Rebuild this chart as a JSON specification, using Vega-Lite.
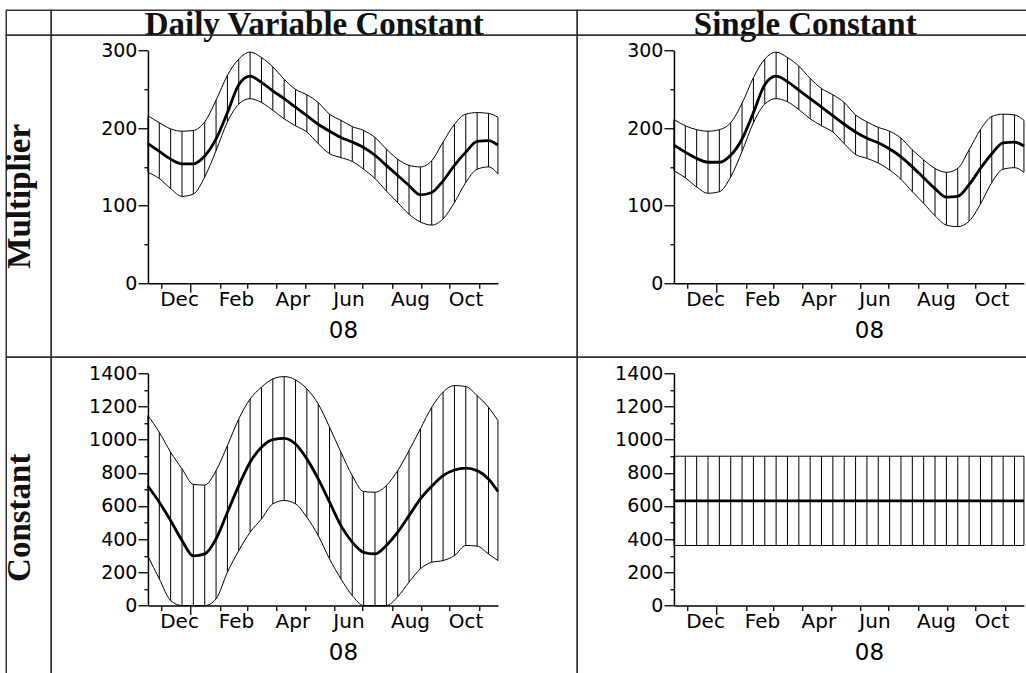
{
  "$schema": "https://vega.github.io/schema/vega-lite/v6.json",
  "background": "white",
  "padding": {"left": 3.25, "top": 7.25, "right": 0, "bottom": 0},
  "columns": 3,
  "spacing": 0,
  "bounds": "flush",
  "align": "each",
  "config": {
    "view": {"stroke": null},
    "axis": {"grid": false, "title": null, "domainColor": "#000", "domainWidth": 1.5, "tickColor": "#000", "tickWidth": 1.3, "labelColor": "#000", "labelFont": "DejaVu Sans", "titleColor": "#000", "titleFont": "DejaVu Sans", "titleFontWeight": "normal"}
  },
  "datasets": {
    "tl": [
      {"date": "2007-11-17", "lo": 143, "mid": 180, "hi": 216},
      {"date": "2007-11-29", "lo": 135, "mid": 170, "hi": 207},
      {"date": "2007-12-11", "lo": 122, "mid": 160, "hi": 199},
      {"date": "2007-12-23", "lo": 112, "mid": 154, "hi": 196},
      {"date": "2008-01-04", "lo": 115, "mid": 154, "hi": 197},
      {"date": "2008-01-16", "lo": 137, "mid": 164, "hi": 208},
      {"date": "2008-01-28", "lo": 171, "mid": 186, "hi": 236},
      {"date": "2008-02-09", "lo": 208, "mid": 220, "hi": 268},
      {"date": "2008-02-21", "lo": 231, "mid": 256, "hi": 289},
      {"date": "2008-03-04", "lo": 238, "mid": 267, "hi": 298},
      {"date": "2008-03-16", "lo": 233, "mid": 259, "hi": 291},
      {"date": "2008-03-28", "lo": 223, "mid": 248, "hi": 279},
      {"date": "2008-04-09", "lo": 212, "mid": 238, "hi": 263},
      {"date": "2008-04-21", "lo": 203, "mid": 227, "hi": 250},
      {"date": "2008-05-03", "lo": 195, "mid": 216, "hi": 243},
      {"date": "2008-05-15", "lo": 180, "mid": 205, "hi": 233},
      {"date": "2008-05-27", "lo": 167, "mid": 196, "hi": 218},
      {"date": "2008-06-08", "lo": 162, "mid": 188, "hi": 210},
      {"date": "2008-06-20", "lo": 157, "mid": 182, "hi": 202},
      {"date": "2008-07-02", "lo": 147, "mid": 175, "hi": 197},
      {"date": "2008-07-14", "lo": 135, "mid": 165, "hi": 188},
      {"date": "2008-07-26", "lo": 119, "mid": 152, "hi": 173},
      {"date": "2008-08-07", "lo": 104, "mid": 139, "hi": 160},
      {"date": "2008-08-19", "lo": 89, "mid": 126, "hi": 152},
      {"date": "2008-08-31", "lo": 79, "mid": 114, "hi": 150},
      {"date": "2008-09-12", "lo": 75, "mid": 117, "hi": 158},
      {"date": "2008-09-24", "lo": 83, "mid": 132, "hi": 182},
      {"date": "2008-10-06", "lo": 104, "mid": 152, "hi": 205},
      {"date": "2008-10-18", "lo": 130, "mid": 169, "hi": 218},
      {"date": "2008-10-30", "lo": 147, "mid": 183, "hi": 220},
      {"date": "2008-11-11", "lo": 150, "mid": 184, "hi": 219},
      {"date": "2008-11-21", "lo": 141, "mid": 178, "hi": 214}
    ],
    "tr": [
      {"date": "2007-11-17", "lo": 145, "mid": 178, "hi": 211},
      {"date": "2007-11-29", "lo": 136, "mid": 169, "hi": 203},
      {"date": "2007-12-11", "lo": 124, "mid": 161, "hi": 198},
      {"date": "2007-12-23", "lo": 116, "mid": 156, "hi": 196},
      {"date": "2008-01-04", "lo": 118, "mid": 156, "hi": 198},
      {"date": "2008-01-16", "lo": 137, "mid": 165, "hi": 207},
      {"date": "2008-01-28", "lo": 170, "mid": 186, "hi": 232},
      {"date": "2008-02-09", "lo": 207, "mid": 220, "hi": 265},
      {"date": "2008-02-21", "lo": 231, "mid": 256, "hi": 289},
      {"date": "2008-03-04", "lo": 238, "mid": 267, "hi": 298},
      {"date": "2008-03-16", "lo": 234, "mid": 260, "hi": 291},
      {"date": "2008-03-28", "lo": 224, "mid": 249, "hi": 280},
      {"date": "2008-04-09", "lo": 212, "mid": 238, "hi": 264},
      {"date": "2008-04-21", "lo": 203, "mid": 227, "hi": 251},
      {"date": "2008-05-03", "lo": 195, "mid": 216, "hi": 243},
      {"date": "2008-05-15", "lo": 180, "mid": 205, "hi": 233},
      {"date": "2008-05-27", "lo": 166, "mid": 195, "hi": 217},
      {"date": "2008-06-08", "lo": 161, "mid": 187, "hi": 208},
      {"date": "2008-06-20", "lo": 155, "mid": 181, "hi": 201},
      {"date": "2008-07-02", "lo": 146, "mid": 173, "hi": 196},
      {"date": "2008-07-14", "lo": 134, "mid": 163, "hi": 187},
      {"date": "2008-07-26", "lo": 118, "mid": 150, "hi": 172},
      {"date": "2008-08-07", "lo": 103, "mid": 136, "hi": 159},
      {"date": "2008-08-19", "lo": 87, "mid": 122, "hi": 148},
      {"date": "2008-08-31", "lo": 75, "mid": 111, "hi": 143},
      {"date": "2008-09-12", "lo": 73, "mid": 112, "hi": 148},
      {"date": "2008-09-24", "lo": 80, "mid": 127, "hi": 172},
      {"date": "2008-10-06", "lo": 102, "mid": 148, "hi": 198},
      {"date": "2008-10-18", "lo": 130, "mid": 167, "hi": 215},
      {"date": "2008-10-30", "lo": 147, "mid": 181, "hi": 218},
      {"date": "2008-11-11", "lo": 149, "mid": 182, "hi": 217},
      {"date": "2008-11-21", "lo": 143, "mid": 177, "hi": 210}
    ],
    "bl": [
      {"date": "2007-11-17", "lo": 297, "mid": 719, "hi": 1145},
      {"date": "2007-11-29", "lo": 161, "mid": 623, "hi": 1044},
      {"date": "2007-12-11", "lo": 30, "mid": 512, "hi": 924},
      {"date": "2007-12-23", "lo": 0, "mid": 392, "hi": 824},
      {"date": "2008-01-04", "lo": 0, "mid": 299, "hi": 730},
      {"date": "2008-01-16", "lo": 0, "mid": 311, "hi": 726},
      {"date": "2008-01-28", "lo": 40, "mid": 402, "hi": 813},
      {"date": "2008-02-09", "lo": 201, "mid": 562, "hi": 964},
      {"date": "2008-02-21", "lo": 331, "mid": 723, "hi": 1125},
      {"date": "2008-03-04", "lo": 442, "mid": 864, "hi": 1245},
      {"date": "2008-03-16", "lo": 522, "mid": 954, "hi": 1316},
      {"date": "2008-03-28", "lo": 613, "mid": 1000, "hi": 1366},
      {"date": "2008-04-09", "lo": 633, "mid": 1008, "hi": 1380},
      {"date": "2008-04-21", "lo": 613, "mid": 974, "hi": 1360},
      {"date": "2008-05-03", "lo": 532, "mid": 884, "hi": 1306},
      {"date": "2008-05-15", "lo": 422, "mid": 763, "hi": 1215},
      {"date": "2008-05-27", "lo": 281, "mid": 623, "hi": 1075},
      {"date": "2008-06-08", "lo": 161, "mid": 482, "hi": 924},
      {"date": "2008-06-20", "lo": 60, "mid": 382, "hi": 783},
      {"date": "2008-07-02", "lo": 0, "mid": 321, "hi": 687},
      {"date": "2008-07-14", "lo": 0, "mid": 311, "hi": 683},
      {"date": "2008-07-26", "lo": 0, "mid": 362, "hi": 723},
      {"date": "2008-08-07", "lo": 53, "mid": 442, "hi": 813},
      {"date": "2008-08-19", "lo": 141, "mid": 542, "hi": 934},
      {"date": "2008-08-31", "lo": 221, "mid": 643, "hi": 1065},
      {"date": "2008-09-12", "lo": 261, "mid": 719, "hi": 1195},
      {"date": "2008-09-24", "lo": 271, "mid": 783, "hi": 1286},
      {"date": "2008-10-06", "lo": 301, "mid": 817, "hi": 1326},
      {"date": "2008-10-18", "lo": 362, "mid": 828, "hi": 1320},
      {"date": "2008-10-30", "lo": 358, "mid": 813, "hi": 1265},
      {"date": "2008-11-11", "lo": 311, "mid": 763, "hi": 1195},
      {"date": "2008-11-21", "lo": 271, "mid": 687, "hi": 1115}
    ],
    "br": [
      {"date": "2007-11-17", "lo": 362, "mid": 631, "hi": 900},
      {"date": "2007-11-29", "lo": 362, "mid": 631, "hi": 900},
      {"date": "2007-12-11", "lo": 362, "mid": 631, "hi": 900},
      {"date": "2007-12-23", "lo": 362, "mid": 631, "hi": 900},
      {"date": "2008-01-04", "lo": 362, "mid": 631, "hi": 900},
      {"date": "2008-01-16", "lo": 362, "mid": 631, "hi": 900},
      {"date": "2008-01-28", "lo": 362, "mid": 631, "hi": 900},
      {"date": "2008-02-09", "lo": 362, "mid": 631, "hi": 900},
      {"date": "2008-02-21", "lo": 362, "mid": 631, "hi": 900},
      {"date": "2008-03-04", "lo": 362, "mid": 631, "hi": 900},
      {"date": "2008-03-16", "lo": 362, "mid": 631, "hi": 900},
      {"date": "2008-03-28", "lo": 362, "mid": 631, "hi": 900},
      {"date": "2008-04-09", "lo": 362, "mid": 631, "hi": 900},
      {"date": "2008-04-21", "lo": 362, "mid": 631, "hi": 900},
      {"date": "2008-05-03", "lo": 362, "mid": 631, "hi": 900},
      {"date": "2008-05-15", "lo": 362, "mid": 631, "hi": 900},
      {"date": "2008-05-27", "lo": 362, "mid": 631, "hi": 900},
      {"date": "2008-06-08", "lo": 362, "mid": 631, "hi": 900},
      {"date": "2008-06-20", "lo": 362, "mid": 631, "hi": 900},
      {"date": "2008-07-02", "lo": 362, "mid": 631, "hi": 900},
      {"date": "2008-07-14", "lo": 362, "mid": 631, "hi": 900},
      {"date": "2008-07-26", "lo": 362, "mid": 631, "hi": 900},
      {"date": "2008-08-07", "lo": 362, "mid": 631, "hi": 900},
      {"date": "2008-08-19", "lo": 362, "mid": 631, "hi": 900},
      {"date": "2008-08-31", "lo": 362, "mid": 631, "hi": 900},
      {"date": "2008-09-12", "lo": 362, "mid": 631, "hi": 900},
      {"date": "2008-09-24", "lo": 362, "mid": 631, "hi": 900},
      {"date": "2008-10-06", "lo": 362, "mid": 631, "hi": 900},
      {"date": "2008-10-18", "lo": 362, "mid": 631, "hi": 900},
      {"date": "2008-10-30", "lo": 362, "mid": 631, "hi": 900},
      {"date": "2008-11-11", "lo": 362, "mid": 631, "hi": 900},
      {"date": "2008-11-21", "lo": 362, "mid": 631, "hi": 900}
    ]
  },
  "concat": [
    {
      "width": 45, "height": 25,
      "data": {"values": [{"t": ""}]},
      "mark": {"type": "text"},
      "encoding": {"text": {"field": "t"}},
      "view": {"stroke": "#333", "strokeWidth": 1.5}
    },
    {
      "width": 526, "height": 25,
      "data": {"values": [{"t": "Daily Variable Constant"}]},
      "mark": {"type": "text", "font": "Liberation Serif", "fontWeight": "bold", "fontSize": 33, "align": "center", "baseline": "alphabetic", "dy": 12, "color": "#111"},
      "encoding": {"text": {"field": "t"}},
      "view": {"stroke": "#333", "strokeWidth": 1.5}
    },
    {
      "width": 450, "height": 25,
      "data": {"values": [{"t": "Single Constant"}]},
      "mark": {"type": "text", "font": "Liberation Serif", "fontWeight": "bold", "fontSize": 33, "align": "center", "baseline": "alphabetic", "dy": 12, "dx": 3, "color": "#111"},
      "encoding": {"text": {"field": "t"}},
      "view": {"stroke": "#333", "strokeWidth": 1.5, "strokeDash": [450, 25, 475]}
    },
    {
      "width": 45, "height": 322,
      "data": {"values": [{"t": "Multiplier"}]},
      "mark": {"type": "text", "font": "Liberation Serif", "fontWeight": "bold", "fontSize": 33, "align": "center", "baseline": "alphabetic", "angle": 270, "dy": 1.5, "color": "#111"},
      "encoding": {"text": {"field": "t"}},
      "view": {"stroke": "#333", "strokeWidth": 1.5}
    },
    {
      "width": 526, "height": 322,
      "data": {"name": "tl"},
      "view": {"stroke": "#333", "strokeWidth": 1.5},
      "encoding": {
        "x": {"field": "date", "type": "temporal",
          "scale": {"type": "utc", "domain": [{"year": 2007, "month": 11, "date": 17, "utc": true}, {"year": 2008, "month": 11, "date": 21, "utc": true}], "range": [96.7, 446.7], "nice": false},
          "axis": {"offset": -74, "tickCount": {"interval": "month", "step": 1}, "labelExpr": "utcmonth(datum.value) % 2 == 1 ? utcFormat(datum.value, '%b') : ''", "labelAlign": "left", "labelOffset": -1.5, "labelPadding": 1, "labelFontSize": 20, "labelOverlap": false, "labelFlush": false, "labelBound": false, "tickSize": {"condition": {"test": "utcmonth(datum.value) == 0", "value": 9}, "value": 5}, "title": "08", "titleFontSize": 23, "titleAlign": "left", "titleBaseline": "top", "titleX": 277, "titleY": 36}}
      },
      "layer": [
        {"mark": {"type": "rule", "color": "#000", "strokeWidth": 1}, "encoding": {"y": {"field": "lo", "type": "quantitative", "scale": {"domain": [0, 300], "range": [248, 15.3], "nice": false, "zero": false}, "axis": {"offset": -96.7, "values": [0, 50, 100, 150, 200, 250, 300], "format": "d", "labelExpr": "datum.value % 100 == 0 ? datum.label : ''", "labelPadding": 1, "labelFontSize": 19, "labelOverlap": false, "labelBound": false, "labelFlush": false, "tickSize": {"condition": {"test": "datum.value % 100 == 0", "value": 10}, "value": 4}}}, "y2": {"field": "hi"}}},
        {"mark": {"type": "line", "color": "#000", "strokeWidth": 1, "interpolate": "monotone"}, "encoding": {"y": {"field": "lo", "type": "quantitative", "scale": {"domain": [0, 300], "range": [248, 15.3], "nice": false, "zero": false}, "axis": {"offset": -96.7, "values": [0, 50, 100, 150, 200, 250, 300], "format": "d", "labelExpr": "datum.value % 100 == 0 ? datum.label : ''", "labelPadding": 1, "labelFontSize": 19, "labelOverlap": false, "labelBound": false, "labelFlush": false, "tickSize": {"condition": {"test": "datum.value % 100 == 0", "value": 10}, "value": 4}}}}},
        {"mark": {"type": "line", "color": "#000", "strokeWidth": 1, "interpolate": "monotone"}, "encoding": {"y": {"field": "hi", "type": "quantitative", "scale": {"domain": [0, 300], "range": [248, 15.3], "nice": false, "zero": false}, "axis": {"offset": -96.7, "values": [0, 50, 100, 150, 200, 250, 300], "format": "d", "labelExpr": "datum.value % 100 == 0 ? datum.label : ''", "labelPadding": 1, "labelFontSize": 19, "labelOverlap": false, "labelBound": false, "labelFlush": false, "tickSize": {"condition": {"test": "datum.value % 100 == 0", "value": 10}, "value": 4}}}}},
        {"mark": {"type": "line", "color": "#000", "strokeWidth": 2.8, "interpolate": "monotone"}, "encoding": {"y": {"field": "mid", "type": "quantitative", "scale": {"domain": [0, 300], "range": [248, 15.3], "nice": false, "zero": false}, "axis": {"offset": -96.7, "values": [0, 50, 100, 150, 200, 250, 300], "format": "d", "labelExpr": "datum.value % 100 == 0 ? datum.label : ''", "labelPadding": 1, "labelFontSize": 19, "labelOverlap": false, "labelBound": false, "labelFlush": false, "tickSize": {"condition": {"test": "datum.value % 100 == 0", "value": 10}, "value": 4}}}}}
      ]
    },
    {
      "width": 450, "height": 322,
      "data": {"name": "tr"},
      "view": {"stroke": "#333", "strokeWidth": 1.5, "strokeDash": [450, 322, 772]},
      "encoding": {
        "x": {"field": "date", "type": "temporal",
          "scale": {"type": "utc", "domain": [{"year": 2007, "month": 11, "date": 17, "utc": true}, {"year": 2008, "month": 11, "date": 21, "utc": true}], "range": [96.7, 446.7], "nice": false},
          "axis": {"offset": -74, "tickCount": {"interval": "month", "step": 1}, "labelExpr": "utcmonth(datum.value) % 2 == 1 ? utcFormat(datum.value, '%b') : ''", "labelAlign": "left", "labelOffset": -1.5, "labelPadding": 1, "labelFontSize": 20, "labelOverlap": false, "labelFlush": false, "labelBound": false, "tickSize": {"condition": {"test": "utcmonth(datum.value) == 0", "value": 9}, "value": 5}, "title": "08", "titleFontSize": 23, "titleAlign": "left", "titleBaseline": "top", "titleX": 277, "titleY": 36}}
      },
      "layer": [
        {"mark": {"type": "rule", "color": "#000", "strokeWidth": 1}, "encoding": {"y": {"field": "lo", "type": "quantitative", "scale": {"domain": [0, 300], "range": [248, 15.3], "nice": false, "zero": false}, "axis": {"offset": -96.7, "values": [0, 50, 100, 150, 200, 250, 300], "format": "d", "labelExpr": "datum.value % 100 == 0 ? datum.label : ''", "labelPadding": 1, "labelFontSize": 19, "labelOverlap": false, "labelBound": false, "labelFlush": false, "tickSize": {"condition": {"test": "datum.value % 100 == 0", "value": 10}, "value": 4}}}, "y2": {"field": "hi"}}},
        {"mark": {"type": "line", "color": "#000", "strokeWidth": 1, "interpolate": "monotone"}, "encoding": {"y": {"field": "lo", "type": "quantitative", "scale": {"domain": [0, 300], "range": [248, 15.3], "nice": false, "zero": false}, "axis": {"offset": -96.7, "values": [0, 50, 100, 150, 200, 250, 300], "format": "d", "labelExpr": "datum.value % 100 == 0 ? datum.label : ''", "labelPadding": 1, "labelFontSize": 19, "labelOverlap": false, "labelBound": false, "labelFlush": false, "tickSize": {"condition": {"test": "datum.value % 100 == 0", "value": 10}, "value": 4}}}}},
        {"mark": {"type": "line", "color": "#000", "strokeWidth": 1, "interpolate": "monotone"}, "encoding": {"y": {"field": "hi", "type": "quantitative", "scale": {"domain": [0, 300], "range": [248, 15.3], "nice": false, "zero": false}, "axis": {"offset": -96.7, "values": [0, 50, 100, 150, 200, 250, 300], "format": "d", "labelExpr": "datum.value % 100 == 0 ? datum.label : ''", "labelPadding": 1, "labelFontSize": 19, "labelOverlap": false, "labelBound": false, "labelFlush": false, "tickSize": {"condition": {"test": "datum.value % 100 == 0", "value": 10}, "value": 4}}}}},
        {"mark": {"type": "line", "color": "#000", "strokeWidth": 2.8, "interpolate": "monotone"}, "encoding": {"y": {"field": "mid", "type": "quantitative", "scale": {"domain": [0, 300], "range": [248, 15.3], "nice": false, "zero": false}, "axis": {"offset": -96.7, "values": [0, 50, 100, 150, 200, 250, 300], "format": "d", "labelExpr": "datum.value % 100 == 0 ? datum.label : ''", "labelPadding": 1, "labelFontSize": 19, "labelOverlap": false, "labelBound": false, "labelFlush": false, "tickSize": {"condition": {"test": "datum.value % 100 == 0", "value": 10}, "value": 4}}}}}
      ]
    },
    {
      "width": 45, "height": 317,
      "data": {"values": [{"t": "Constant"}]},
      "mark": {"type": "text", "font": "Liberation Serif", "fontWeight": "bold", "fontSize": 33, "align": "center", "baseline": "alphabetic", "angle": 270, "dy": 1.5, "dx": -2, "color": "#111"},
      "encoding": {"text": {"field": "t"}},
      "view": {"stroke": "#333", "strokeWidth": 1.5, "strokeDash": [362, 45, 317]}
    },
    {
      "width": 526, "height": 317,
      "data": {"name": "bl"},
      "view": {"stroke": "#333", "strokeWidth": 1.5, "strokeDash": [843, 526, 317]},
      "encoding": {
        "x": {"field": "date", "type": "temporal",
          "scale": {"type": "utc", "domain": [{"year": 2007, "month": 11, "date": 17, "utc": true}, {"year": 2008, "month": 11, "date": 21, "utc": true}], "range": [96.7, 446.7], "nice": false},
          "axis": {"offset": -68.7, "tickCount": {"interval": "month", "step": 1}, "labelExpr": "utcmonth(datum.value) % 2 == 1 ? utcFormat(datum.value, '%b') : ''", "labelAlign": "left", "labelOffset": -1.5, "labelPadding": 1, "labelFontSize": 20, "labelOverlap": false, "labelFlush": false, "labelBound": false, "tickSize": {"condition": {"test": "utcmonth(datum.value) == 0", "value": 9}, "value": 5}, "title": "08", "titleFontSize": 23, "titleAlign": "left", "titleBaseline": "top", "titleX": 277, "titleY": 36}}
      },
      "layer": [
        {"mark": {"type": "rule", "color": "#000", "strokeWidth": 1}, "encoding": {"y": {"field": "lo", "type": "quantitative", "scale": {"domain": [0, 1400], "range": [248.3, 16], "nice": false, "zero": false}, "axis": {"offset": -96.7, "values": [0, 100, 200, 300, 400, 500, 600, 700, 800, 900, 1000, 1100, 1200, 1300, 1400], "format": "d", "labelExpr": "datum.value % 200 == 0 ? datum.label : ''", "labelPadding": 1, "labelFontSize": 19, "labelOverlap": false, "labelBound": false, "labelFlush": false, "tickSize": {"condition": {"test": "datum.value % 200 == 0", "value": 10}, "value": 4}}}, "y2": {"field": "hi"}}},
        {"mark": {"type": "line", "color": "#000", "strokeWidth": 1, "interpolate": "monotone"}, "encoding": {"y": {"field": "lo", "type": "quantitative", "scale": {"domain": [0, 1400], "range": [248.3, 16], "nice": false, "zero": false}, "axis": {"offset": -96.7, "values": [0, 100, 200, 300, 400, 500, 600, 700, 800, 900, 1000, 1100, 1200, 1300, 1400], "format": "d", "labelExpr": "datum.value % 200 == 0 ? datum.label : ''", "labelPadding": 1, "labelFontSize": 19, "labelOverlap": false, "labelBound": false, "labelFlush": false, "tickSize": {"condition": {"test": "datum.value % 200 == 0", "value": 10}, "value": 4}}}}},
        {"mark": {"type": "line", "color": "#000", "strokeWidth": 1, "interpolate": "monotone"}, "encoding": {"y": {"field": "hi", "type": "quantitative", "scale": {"domain": [0, 1400], "range": [248.3, 16], "nice": false, "zero": false}, "axis": {"offset": -96.7, "values": [0, 100, 200, 300, 400, 500, 600, 700, 800, 900, 1000, 1100, 1200, 1300, 1400], "format": "d", "labelExpr": "datum.value % 200 == 0 ? datum.label : ''", "labelPadding": 1, "labelFontSize": 19, "labelOverlap": false, "labelBound": false, "labelFlush": false, "tickSize": {"condition": {"test": "datum.value % 200 == 0", "value": 10}, "value": 4}}}}},
        {"mark": {"type": "line", "color": "#000", "strokeWidth": 2.8, "interpolate": "monotone"}, "encoding": {"y": {"field": "mid", "type": "quantitative", "scale": {"domain": [0, 1400], "range": [248.3, 16], "nice": false, "zero": false}, "axis": {"offset": -96.7, "values": [0, 100, 200, 300, 400, 500, 600, 700, 800, 900, 1000, 1100, 1200, 1300, 1400], "format": "d", "labelExpr": "datum.value % 200 == 0 ? datum.label : ''", "labelPadding": 1, "labelFontSize": 19, "labelOverlap": false, "labelBound": false, "labelFlush": false, "tickSize": {"condition": {"test": "datum.value % 200 == 0", "value": 10}, "value": 4}}}}}
      ]
    },
    {
      "width": 450, "height": 317,
      "data": {"name": "br"},
      "view": {"stroke": "#333", "strokeWidth": 1.5, "strokeDash": [450, 767, 317]},
      "encoding": {
        "x": {"field": "date", "type": "temporal",
          "scale": {"type": "utc", "domain": [{"year": 2007, "month": 11, "date": 17, "utc": true}, {"year": 2008, "month": 11, "date": 21, "utc": true}], "range": [96.7, 446.7], "nice": false},
          "axis": {"offset": -68.7, "tickCount": {"interval": "month", "step": 1}, "labelExpr": "utcmonth(datum.value) % 2 == 1 ? utcFormat(datum.value, '%b') : ''", "labelAlign": "left", "labelOffset": -1.5, "labelPadding": 1, "labelFontSize": 20, "labelOverlap": false, "labelFlush": false, "labelBound": false, "tickSize": {"condition": {"test": "utcmonth(datum.value) == 0", "value": 9}, "value": 5}, "title": "08", "titleFontSize": 23, "titleAlign": "left", "titleBaseline": "top", "titleX": 277, "titleY": 36}}
      },
      "layer": [
        {"mark": {"type": "rule", "color": "#000", "strokeWidth": 1}, "encoding": {"y": {"field": "lo", "type": "quantitative", "scale": {"domain": [0, 1400], "range": [248.3, 16], "nice": false, "zero": false}, "axis": {"offset": -96.7, "values": [0, 100, 200, 300, 400, 500, 600, 700, 800, 900, 1000, 1100, 1200, 1300, 1400], "format": "d", "labelExpr": "datum.value % 200 == 0 ? datum.label : ''", "labelPadding": 1, "labelFontSize": 19, "labelOverlap": false, "labelBound": false, "labelFlush": false, "tickSize": {"condition": {"test": "datum.value % 200 == 0", "value": 10}, "value": 4}}}, "y2": {"field": "hi"}}},
        {"mark": {"type": "line", "color": "#000", "strokeWidth": 1, "interpolate": "monotone"}, "encoding": {"y": {"field": "lo", "type": "quantitative", "scale": {"domain": [0, 1400], "range": [248.3, 16], "nice": false, "zero": false}, "axis": {"offset": -96.7, "values": [0, 100, 200, 300, 400, 500, 600, 700, 800, 900, 1000, 1100, 1200, 1300, 1400], "format": "d", "labelExpr": "datum.value % 200 == 0 ? datum.label : ''", "labelPadding": 1, "labelFontSize": 19, "labelOverlap": false, "labelBound": false, "labelFlush": false, "tickSize": {"condition": {"test": "datum.value % 200 == 0", "value": 10}, "value": 4}}}}},
        {"mark": {"type": "line", "color": "#000", "strokeWidth": 1, "interpolate": "monotone"}, "encoding": {"y": {"field": "hi", "type": "quantitative", "scale": {"domain": [0, 1400], "range": [248.3, 16], "nice": false, "zero": false}, "axis": {"offset": -96.7, "values": [0, 100, 200, 300, 400, 500, 600, 700, 800, 900, 1000, 1100, 1200, 1300, 1400], "format": "d", "labelExpr": "datum.value % 200 == 0 ? datum.label : ''", "labelPadding": 1, "labelFontSize": 19, "labelOverlap": false, "labelBound": false, "labelFlush": false, "tickSize": {"condition": {"test": "datum.value % 200 == 0", "value": 10}, "value": 4}}}}},
        {"mark": {"type": "line", "color": "#000", "strokeWidth": 2.8, "interpolate": "monotone"}, "encoding": {"y": {"field": "mid", "type": "quantitative", "scale": {"domain": [0, 1400], "range": [248.3, 16], "nice": false, "zero": false}, "axis": {"offset": -96.7, "values": [0, 100, 200, 300, 400, 500, 600, 700, 800, 900, 1000, 1100, 1200, 1300, 1400], "format": "d", "labelExpr": "datum.value % 200 == 0 ? datum.label : ''", "labelPadding": 1, "labelFontSize": 19, "labelOverlap": false, "labelBound": false, "labelFlush": false, "tickSize": {"condition": {"test": "datum.value % 200 == 0", "value": 10}, "value": 4}}}}}
      ]
    }
  ]
}
